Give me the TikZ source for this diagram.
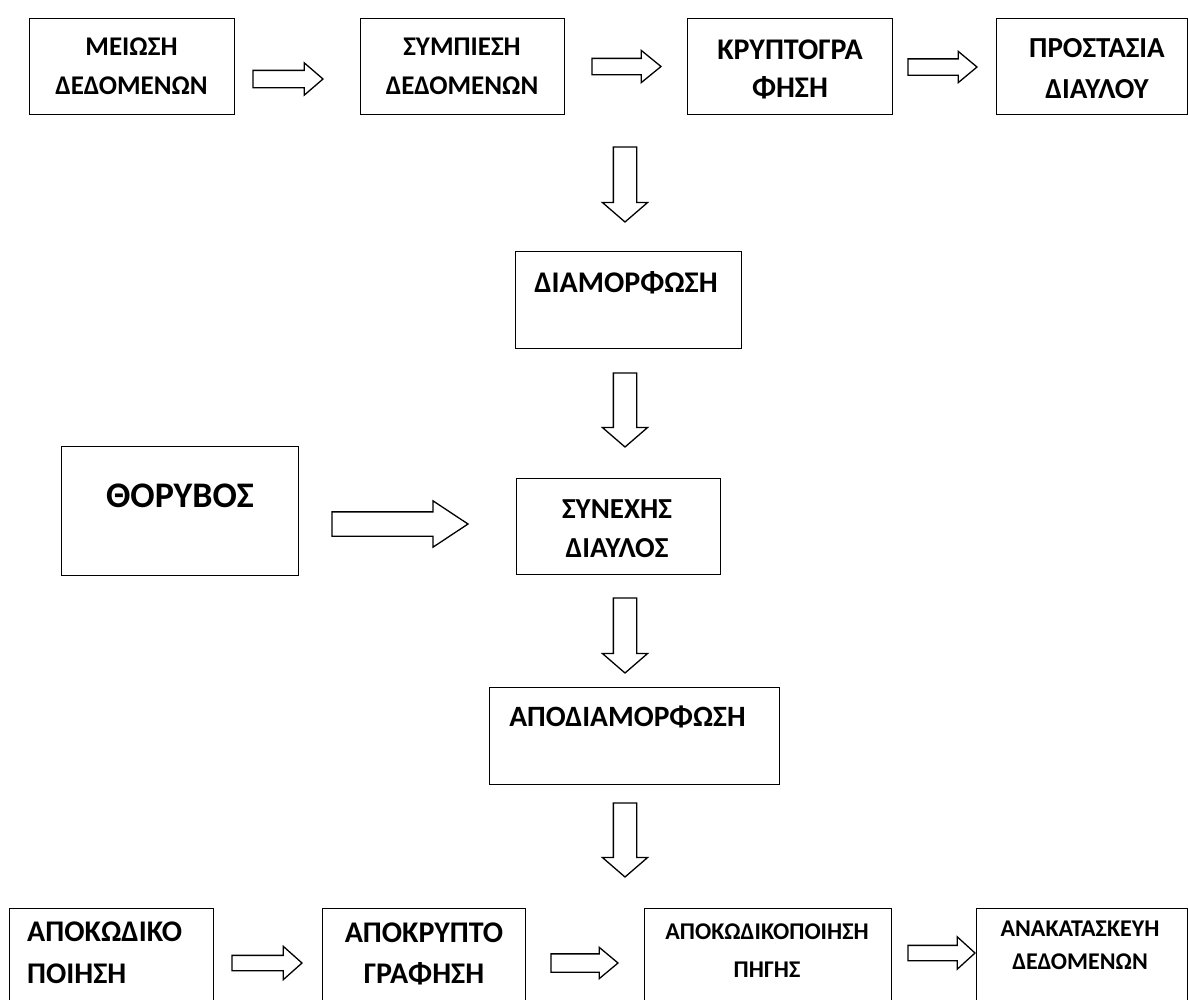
\documentclass[tikz,border=0pt]{standalone}
\usepackage{fontspec}
\setmainfont{Carlito}
\usetikzlibrary{shapes.arrows}
\tikzset{
  box/.style={draw=black, line width=1.3pt, fill=white, rectangle, inner sep=0pt, anchor=north west},
  lbl/.style={anchor=base, inner sep=0pt, font=\bfseries\fontsize{#1}{#1}\selectfont},
  % block arrow: total length, shaft half width, head half width, tip angle
  blk/.style n args={4}{single arrow, draw=black, line width=1.3pt, fill=white,
    inner xsep=0pt, inner ysep=#2pt, outer sep=0pt, anchor=tail,
    minimum height=#1pt, minimum width=0pt,
    single arrow head extend={(#3-#2)*1pt}, single arrow tip angle=#4},
  % downward block arrow: the shaft half width moves to the x separation
  down/.style={shape border rotate=270, inner xsep=#1pt, inner ysep=0pt}
}
\begin{document}
\begin{tikzpicture}[x=1pt, y=-1pt]
\useasboundingbox (0,0) rectangle (1188,999);

% ---- transmitter chain (top row)
\node[box, minimum width=205pt, minimum height=96pt] (b1) at (29,18) {};
\node[box, minimum width=204pt, minimum height=96pt] (b2) at (360,18) {};
\node[box, minimum width=205pt, minimum height=96pt] (b3) at (687,18) {};
\node[box, minimum width=191pt, minimum height=96pt] (b4) at (996,18) {};
\node[lbl=27] (t1a) at (131.5,55.7) {ΜΕΙΩΣΗ};
\node[lbl=27] (t1b) at (131.5,94.7) {ΔΕΔΟΜΕΝΩΝ};
\node[lbl=27] (t2a) at (462,55.7) {ΣΥΜΠΙΕΣΗ};
\node[lbl=27] (t2b) at (462,94.7) {ΔΕΔΟΜΕΝΩΝ};
\node[lbl=30] (t3a) at (790,59.7) {ΚΡΥΠΤΟΓΡΑ};
\node[lbl=30] (t3b) at (790,97.7) {ΦΗΣΗ};
\node[lbl=29] (t4a) at (1097,57.3) {ΠΡΟΣΤΑΣΙΑ};
\node[lbl=29] (t4b) at (1097,98.3) {ΔΙΑΥΛΟΥ};

\node[blk={70}{8}{15.5}{81.5}] (a1) at (253,79) {};
\node[blk={69}{7.5}{15.5}{78.4}] (a2) at (592,66.5) {};
\node[blk={69}{7.5}{15}{79.6}] (a3) at (908,67) {};

% ---- channel column
\node[blk={75}{11}{22}{98.4}, down=11] (d1) at (625,147) {};
\node[box, minimum width=226pt, minimum height=97pt] (b5) at (515,251) {};
\node[lbl=30] (t5) at (626,292.7) {ΔΙΑΜΟΡΦΩΣΗ};
\node[blk={74}{11}{22}{98.4}, down=11] (d2) at (625,373) {};

\node[box, minimum width=237pt, minimum height=129pt] (b6) at (61,446) {};
\node[lbl=36] (t6) at (180,507.6) {ΘΟΡΥΒΟΣ};
\node[blk={136}{11.5}{22.5}{67}] (n1) at (332,524) {};

\node[box, minimum width=204pt, minimum height=96pt] (b7) at (516,478) {};
\node[lbl=29] (t7a) at (617,518.3) {ΣΥΝΕΧΗΣ};
\node[lbl=29] (t7b) at (617,557.3) {ΔΙΑΥΛΟΣ};
\node[blk={75}{11}{22}{98.4}, down=11] (d3) at (625,598) {};

\node[box, minimum width=290pt, minimum height=97pt] (b8) at (489,687) {};
\node[lbl=29.5] (t8) at (627.5,726.5) {ΑΠΟΔΙΑΜΟΡΦΩΣΗ};
\node[blk={74}{11}{22}{98.4}, down=11] (d4) at (625,803) {};

% ---- receiver chain (bottom row)
\node[box, minimum width=204pt, minimum height=100pt] (b9) at (9,908) {};
\node[box, minimum width=203pt, minimum height=100pt] (b10) at (322,908) {};
\node[box, minimum width=247pt, minimum height=100pt] (b11) at (644,908) {};
\node[box, minimum width=211pt, minimum height=100pt] (b12) at (976,908) {};
\node[lbl=30, anchor=base west] (t9a) at (27,941.7) {ΑΠΟΚΩΔΙΚΟ};
\node[lbl=30, anchor=base west] (t9b) at (27,983.7) {ΠΟΙΗΣΗ};
\node[lbl=30] (t10a) at (424,942.7) {ΑΠΟΚΡΥΠΤΟ};
\node[lbl=30] (t10b) at (424,983.7) {ΓΡΑΦΗΣΗ};
\node[lbl=24] (t11a) at (767,939.7) {ΑΠΟΚΩΔΙΚΟΠΟΙΗΣΗ};
\node[lbl=24] (t11b) at (767,977.7) {ΠΗΓΗΣ};
\node[lbl=24] (t12a) at (1080,936.7) {ΑΝΑΚΑΤΑΣΚΕΥΗ};
\node[lbl=24] (t12b) at (1080,969.7) {ΔΕΔΟΜΕΝΩΝ};

\node[blk={70}{7}{16}{83.3}] (e1) at (232,963) {};
\node[blk={67}{8.5}{15}{79.6}] (e2) at (551,963) {};
\node[blk={67}{7}{15.5}{84.7}] (e3) at (908,953) {};
\end{tikzpicture}
\end{document}
